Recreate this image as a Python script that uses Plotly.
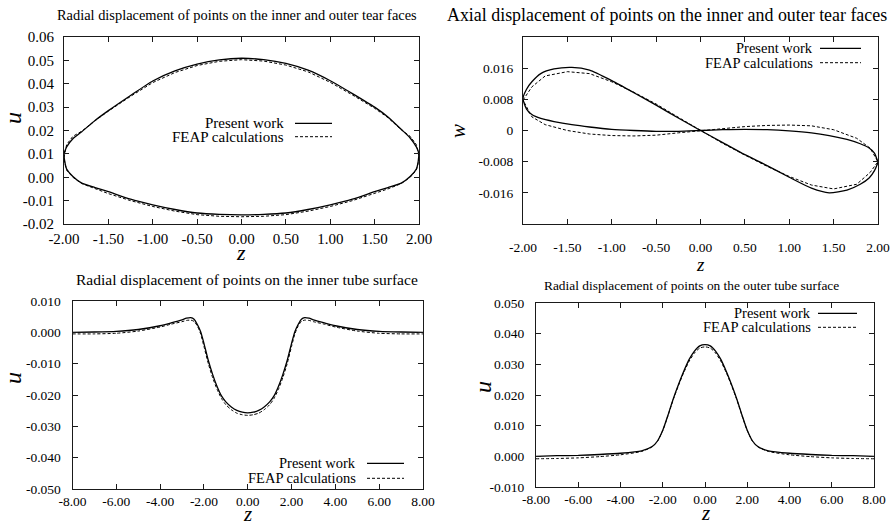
import plotly.graph_objects as go

# ---------------- data ----------------
# Panel 1: radial displacement on tear faces (closed loop: outer face + inner face)
z_tear = [-2.0, -1.99, -1.97, -1.9, -1.8, -1.65, -1.5, -1.25, -1.0, -0.75, -0.5, -0.25, 0.0,
          0.25, 0.5, 0.75, 1.0, 1.25, 1.5, 1.65, 1.8, 1.9, 1.97, 1.99, 2.0]
u_tear_present_top = [0.0100, 0.0112, 0.0130, 0.0165, 0.0195, 0.0243, 0.0285, 0.0350, 0.0412, 0.0455, 0.0484, 0.0502, 0.0509,
                      0.0503, 0.0487, 0.0458, 0.0413, 0.0358, 0.0300, 0.0258, 0.0205, 0.0168, 0.0130, 0.0112, 0.0100]
u_tear_present_bot = [0.0100, 0.0065, 0.0035, 0.0003, -0.0025, -0.0044, -0.0062, -0.0094, -0.0118, -0.0138, -0.0153, -0.0159, -0.0161,
                      -0.0159, -0.0153, -0.0138, -0.0118, -0.0094, -0.0062, -0.0044, -0.0025, 0.0003, 0.0035, 0.0065, 0.0100]
u_tear_feap_top = [0.0085, 0.0110, 0.0140, 0.0175, 0.0197, 0.0242, 0.0283, 0.0346, 0.0405, 0.0448, 0.0478, 0.0496, 0.0503,
                   0.0497, 0.0480, 0.0451, 0.0406, 0.0352, 0.0295, 0.0255, 0.0203, 0.0175, 0.0140, 0.0110, 0.0085]
u_tear_feap_bot = [0.0085, 0.0060, 0.0030, 0.0000, -0.0027, -0.0050, -0.0070, -0.0100, -0.0125, -0.0145, -0.0160, -0.0167, -0.0169,
                   -0.0167, -0.0160, -0.0145, -0.0125, -0.0100, -0.0070, -0.0050, -0.0027, 0.0000, 0.0030, 0.0060, 0.0085]

# Panel 2: axial displacement on tear faces (figure-eight loop)
z_ax_present = [-2.0, -1.96, -1.9, -1.8, -1.65, -1.45, -1.25, -1.0, -0.75, -0.5, -0.25, 0.0,
                0.25, 0.5, 0.75, 1.0, 1.25, 1.45, 1.65, 1.8, 1.9, 1.96, 2.0]
w_ax_present_a = [0.0082, 0.0106, 0.0125, 0.0146, 0.0158, 0.0162, 0.0155, 0.0128, 0.0097, 0.0065, 0.0032, 0.0000,
                  -0.0031, -0.0062, -0.0090, -0.0120, -0.0148, -0.0160, -0.0153, -0.0138, -0.0122, -0.0103, -0.0082]
w_ax_present_b = [0.0082, 0.0055, 0.0041, 0.0031, 0.0023, 0.0015, 0.0009, 0.0003, 0.0000, -0.0002, -0.0002, 0.0000,
                  0.0002, 0.0003, 0.0002, -0.0001, -0.0006, -0.0013, -0.0023, -0.0034, -0.0045, -0.0058, -0.0082]
z_ax_feap = [-2.0, -1.9, -1.75, -1.5, -1.25, -1.0, -0.75, -0.5, -0.25, 0.0,
             0.25, 0.5, 0.75, 1.0, 1.25, 1.5, 1.76, 1.91, 2.0]
w_ax_feap_a = [0.0078, 0.0112, 0.0140, 0.0151, 0.0146, 0.0125, 0.0098, 0.0068, 0.0034, 0.0000,
               -0.0033, -0.0063, -0.0092, -0.0118, -0.0140, -0.0150, -0.0138, -0.0108, -0.0080]
w_ax_feap_b = [0.0078, 0.0035, 0.0015, 0.0000, -0.0009, -0.0013, -0.0014, -0.0012, -0.0006, 0.0000,
               0.0005, 0.0010, 0.0013, 0.0014, 0.0012, 0.0002, -0.0020, -0.0045, -0.0080]

# Panel 3: radial displacement on inner tube surface
z_tube = [-8.0, -7.0, -6.0, -5.0, -4.0, -3.5, -3.0, -2.8, -2.6, -2.45, -2.3, -2.15, -2.0, -1.8, -1.6, -1.4, -1.2, -1.0,
          -0.75, -0.5, -0.25, 0.0, 0.25, 0.5, 0.75,
          1.0, 1.2, 1.4, 1.6, 1.8, 2.0, 2.15, 2.3, 2.45, 2.6, 2.8, 3.0, 3.5, 4.0, 5.0, 6.0, 7.0, 8.0]
u_inner_present = [0.0000, 0.0001, 0.0003, 0.0009, 0.0021, 0.0030, 0.0040, 0.0045, 0.0047, 0.0042, 0.0025, 0.0002,
                   -0.0035, -0.0090, -0.0135, -0.0173, -0.0203, -0.0222, -0.0238, -0.0249, -0.0255, -0.0257,
                   -0.0255, -0.0249, -0.0238, -0.0222, -0.0203, -0.0173, -0.0135, -0.0090, -0.0035,
                   0.0002, 0.0025, 0.0042, 0.0047, 0.0045, 0.0040, 0.0030, 0.0021, 0.0009, 0.0003, 0.0001, 0.0000]
u_inner_feap = [-0.0005, -0.0005, -0.0003, 0.0004, 0.0017, 0.0026, 0.0034, 0.0038, 0.0039, 0.0035, 0.0020, -0.0005,
                -0.0045, -0.0100, -0.0145, -0.0182, -0.0211, -0.0231, -0.0247, -0.0258, -0.0263, -0.0265,
                -0.0263, -0.0258, -0.0247, -0.0231, -0.0211, -0.0182, -0.0145, -0.0100, -0.0045,
                -0.0005, 0.0020, 0.0035, 0.0039, 0.0038, 0.0034, 0.0026, 0.0017, 0.0004, -0.0003, -0.0005, -0.0005]

# Panel 4: radial displacement on outer tube surface
z_outer = [-8.0, -7.0, -6.0, -5.0, -4.0, -3.0, -2.5, -2.25, -2.0, -1.75, -1.5, -1.25, -1.0, -0.75, -0.5, -0.25, 0.0,
           0.25, 0.5, 0.75, 1.0, 1.25, 1.5, 1.75, 2.0, 2.25, 2.5, 3.0, 4.0, 5.0, 6.0, 7.0, 8.0]
u_outer_present = [0.0000, 0.0002, 0.0003, 0.0006, 0.0010, 0.0018, 0.0032, 0.0050, 0.0085, 0.0135, 0.0188, 0.0235,
                   0.0278, 0.0316, 0.0343, 0.0360, 0.0364,
                   0.0360, 0.0343, 0.0316, 0.0278, 0.0235, 0.0188, 0.0135, 0.0085, 0.0050, 0.0032, 0.0018,
                   0.0010, 0.0006, 0.0003, 0.0002, 0.0000]
u_outer_feap = [-0.0008, -0.0007, -0.0005, -0.0001, 0.0005, 0.0016, 0.0031, 0.0049, 0.0084, 0.0133, 0.0186, 0.0232,
                0.0274, 0.0310, 0.0337, 0.0353, 0.0357,
                0.0353, 0.0337, 0.0310, 0.0274, 0.0232, 0.0186, 0.0133, 0.0084, 0.0049, 0.0031, 0.0016,
                0.0005, -0.0001, -0.0005, -0.0007, -0.0008]

# tick labels
xt_tear_vals = [-2.0, -1.5, -1.0, -0.5, 0.0, 0.5, 1.0, 1.5, 2.0]
xt_tear_text = ["-2.00", "-1.50", "-1.00", "-0.50", "0.00", "0.50", "1.00", "1.50", "2.00"]
yt1_vals = [-0.02, -0.01, 0.0, 0.01, 0.02, 0.03, 0.04, 0.05, 0.06]
yt1_text = ["-0.02", "-0.01", "0.00", "0.01", "0.02", "0.03", "0.04", "0.05", "0.06"]
yt2_vals = [-0.016, -0.008, 0.0, 0.008, 0.016]
yt2_text = ["-0.016", "-0.008", "0", "0.008", "0.016"]
xt_tube_vals = [-8, -6, -4, -2, 0, 2, 4, 6, 8]
xt_tube_text = ["-8.00", "-6.00", "-4.00", "-2.00", "0.00", "2.00", "4.00", "6.00", "8.00"]
yt3_vals = [-0.05, -0.04, -0.03, -0.02, -0.01, 0.0, 0.01]
yt3_text = ["-0.050", "-0.040", "-0.030", "-0.020", "-0.010", "0.000", "0.010"]
yt4_vals = [-0.01, 0.0, 0.01, 0.02, 0.03, 0.04, 0.05]
yt4_text = ["-0.010", "0.000", "0.010", "0.020", "0.030", "0.040", "0.050"]

titles = ["Radial displacement of points on the inner and outer tear faces",
          "Axial displacement of points on the inner and outer tear faces",
          "Radial displacement of points on the inner tube surface",
          "Radial displacement of points on the outer tube surface"]
legend_names = ["Present work", "FEAP calculations"]

# ---------------- figure ----------------
W, H = 893, 525
SERIF = "Liberation Serif"
INK = "#1a1a1a"

def px(x):
    return x / W

def py(y):
    return 1 - y / H

fig = go.Figure()
solid = dict(color="black", width=1.3)
dashed = dict(color="black", width=1.0, dash="3px,2px")

# panel 1
fig.add_trace(go.Scatter(x=z_tear + z_tear[::-1], y=u_tear_present_top + u_tear_present_bot[::-1],
                         mode="lines", line=dict(**solid, shape="spline", smoothing=0.6),
                         xaxis="x", yaxis="y", showlegend=False))
fig.add_trace(go.Scatter(x=z_tear + z_tear[::-1], y=u_tear_feap_top + u_tear_feap_bot[::-1],
                         mode="lines", line=dashed, xaxis="x", yaxis="y", showlegend=False))
# panel 2
fig.add_trace(go.Scatter(x=z_ax_present + z_ax_present[::-1], y=w_ax_present_a + w_ax_present_b[::-1],
                         mode="lines", line=dict(**solid, shape="spline", smoothing=0.6),
                         xaxis="x2", yaxis="y2", showlegend=False))
fig.add_trace(go.Scatter(x=z_ax_feap + z_ax_feap[::-1], y=w_ax_feap_a + w_ax_feap_b[::-1],
                         mode="lines", line=dashed, xaxis="x2", yaxis="y2", showlegend=False))
# panel 3
fig.add_trace(go.Scatter(x=z_tube, y=u_inner_present, mode="lines",
                         line=dict(**solid, shape="spline", smoothing=0.6), xaxis="x3", yaxis="y3", showlegend=False))
fig.add_trace(go.Scatter(x=z_tube, y=u_inner_feap, mode="lines",
                         line=dict(**dashed, shape="spline", smoothing=0.6), xaxis="x3", yaxis="y3", showlegend=False))
# panel 4
fig.add_trace(go.Scatter(x=z_outer, y=u_outer_present, mode="lines",
                         line=dict(**solid, shape="spline", smoothing=0.6), xaxis="x4", yaxis="y4", showlegend=False))
fig.add_trace(go.Scatter(x=z_outer, y=u_outer_feap, mode="lines",
                         line=dict(**dashed, shape="spline", smoothing=0.6), xaxis="x4", yaxis="y4", showlegend=False))

# panel frames (pixels: left, right, top, bottom)
frames = [(64, 419, 37, 224), (523, 878, 37, 224), (72.5, 423, 301, 489), (536, 874, 303, 487)]
xranges = [[-2, 2], [-2, 2], [-8, 8], [-8, 8]]
yranges = [[-0.02, 0.06], [-0.024, 0.024], [-0.05, 0.01], [-0.01, 0.05]]
xticks = [(xt_tear_vals, xt_tear_text), (xt_tear_vals, xt_tear_text),
          (xt_tube_vals, xt_tube_text), (xt_tube_vals, xt_tube_text)]
yticks = [(yt1_vals, yt1_text), (yt2_vals, yt2_text), (yt3_vals, yt3_text), (yt4_vals, yt4_text)]
tick_sizes = [15, 13.5, 13.5, 13.5]
x_standoff = [1, 11, 0, 0]
y_standoff = [6, 6, 8, 8]

layout = dict(template="none", width=W, height=H, margin=dict(l=0, r=0, t=0, b=0, autoexpand=False),
              paper_bgcolor="white", plot_bgcolor="white", showlegend=False)
for i, (l, r, t, b) in enumerate(frames):
    sfx = "" if i == 0 else str(i + 1)
    common = dict(showgrid=False, zeroline=False, showline=True, linecolor=INK, linewidth=1,
                  mirror="allticks", ticks="inside", ticklen=5, tickcolor=INK, tickwidth=1,
                  automargin=False,
                  tickfont=dict(family=SERIF, size=tick_sizes[i], color="black"))
    layout["xaxis" + sfx] = dict(common, domain=[px(l), px(r)], range=xranges[i],
                                 anchor="y" + sfx, tickmode="array",
                                 tickvals=xticks[i][0], ticktext=xticks[i][1],
                                 ticklabelstandoff=x_standoff[i])
    layout["yaxis" + sfx] = dict(common, domain=[py(b), py(t)], range=yranges[i],
                                 anchor="x" + sfx, tickmode="array",
                                 tickvals=yticks[i][0], ticktext=yticks[i][1],
                                 ticklabelstandoff=y_standoff[i])
fig.update_layout(**layout)

ann = []
# titles
title_pos = [(237, 15, 14.4), (667, 15, 17.9), (247, 279, 15.5), (691, 285, 13.4)]
for (x, y, s), txt in zip(title_pos, titles):
    ann.append(dict(x=px(x), y=py(y), xref="paper", yref="paper", text=txt, showarrow=False,
                    xanchor="center", yanchor="middle", font=dict(family=SERIF, size=s, color="black")))
# axis letters
letters = [("u", 13, 118, 24, -90), ("z", 241, 252, 22, 0),
           ("w", 458, 131, 21, -90), ("z", 700, 264, 19, 0),
           ("u", 13, 378, 24, -90), ("z", 247, 514, 21, 0),
           ("u", 483, 387, 24, -90), ("z", 705, 513, 21, 0)]
for t, x, y, s, ang in letters:
    ann.append(dict(x=px(x), y=py(y), xref="paper", yref="paper", text="<i>" + t + "</i>",
                    showarrow=False, textangle=ang, xanchor="center", yanchor="middle",
                    font=dict(family=SERIF, size=s, color="black")))

# legends: (text right edge, y present, y feap, line start, line end, font size)
legends = [(286, 123.3, 136.7, 295, 332, 15), (815, 48.3, 62.7, 820, 861, 14.5),
           (358.3, 463.3, 478.3, 367, 404, 14.5), (812.7, 313.3, 327.3, 818, 857, 14.5)]
shapes = []
for xr, y1, y2, l0, l1, s in legends:
    for name, yy, st in ((legend_names[0], y1, solid), (legend_names[1], y2, dashed)):
        ann.append(dict(x=px(xr), y=py(yy), xref="paper", yref="paper", text=name, showarrow=False,
                        xanchor="right", yanchor="middle", font=dict(family=SERIF, size=s, color="black")))
        shapes.append(dict(type="line", xref="paper", yref="paper", x0=px(l0), x1=px(l1),
                           y0=py(yy), y1=py(yy), line=st))
fig.update_layout(annotations=ann, shapes=shapes)

fig.write_html("out.html", config={"displayModeBar": False},
               post_script="document.body.style.margin='0';document.body.style.overflow='hidden';")
